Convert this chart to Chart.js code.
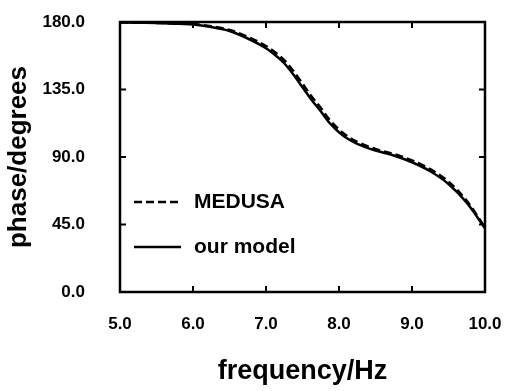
<!DOCTYPE html>
<html>
<head>
<meta charset="utf-8">
<script src="https://cdn.jsdelivr.net/npm/chart.js@4.4.1/dist/chart.umd.min.js"></script>
<style>
  html, body { margin: 0; padding: 0; background: #fff; }
</style>
</head>
<body>
<canvas id="phaseChart" width="505" height="391"></canvas>
<script>
// values
const freqHz = [5.0, 5.25, 5.5, 5.75, 6.0, 6.25, 6.5, 6.75, 7.0, 7.125, 7.25, 7.375, 7.5,
                7.625, 7.75, 7.875, 8.0, 8.125, 8.25, 8.5, 8.75, 9.0, 9.25, 9.5, 9.75, 10.0];
const medusaPhase = [179.8, 179.6, 179.4, 179.1, 178.6, 177.1, 174.7, 170.1, 164.0, 159.8, 154.6, 147.3, 138.9,
                     130.4, 122.8, 114.6, 108.3, 103.5, 100.1, 95.3, 92.0, 87.7, 81.9, 73.6, 60.8, 43.0];
const modelPhase = [179.7, 179.5, 179.3, 178.9, 178.3, 176.6, 174.0, 169.0, 162.5, 158.0, 152.5, 145.0, 136.5,
                    128.0, 120.5, 112.5, 106.5, 102.0, 98.8, 94.3, 91.0, 86.5, 80.5, 72.0, 59.5, 42.5];
const seriesNames = ['MEDUSA', 'our model'];
const xTickValues = [5, 6, 7, 8, 9, 10];
const yTickValues = [0, 45, 90, 135, 180];

const FONT = "'Liberation Sans', Arial, Helvetica, sans-serif";

function toPoints(xs, ys) {
    return xs.map((x, i) => ({x: x, y: ys[i]}));
}

// box round the plot with inward ticks on all four sides
const framePlugin = {
    id: 'frame',
    afterDatasetsDraw(chart) {
        const {ctx, chartArea: a, scales} = chart;
        const tickLen = 6;
        ctx.save();
        ctx.strokeStyle = '#000';
        ctx.lineWidth = 2;
        ctx.beginPath();
        xTickValues.slice(1, -1).forEach(v => {
            const px = scales.x.getPixelForValue(v);
            ctx.moveTo(px, a.bottom); ctx.lineTo(px, a.bottom - tickLen);
            ctx.moveTo(px, a.top); ctx.lineTo(px, a.top + tickLen);
        });
        yTickValues.slice(1, -1).forEach(v => {
            const py = scales.y.getPixelForValue(v);
            ctx.moveTo(a.left, py); ctx.lineTo(a.left + tickLen, py);
            ctx.moveTo(a.right, py); ctx.lineTo(a.right - tickLen, py);
        });
        ctx.stroke();
        ctx.lineWidth = 2.5;
        ctx.strokeRect(a.left, a.top, a.right - a.left, a.bottom - a.top);
        ctx.restore();
    }
};

// legend sits inside the plot, lower left
const insideLegend = {
    id: 'insideLegend',
    afterDraw(chart) {
        const {ctx, chartArea: a} = chart;
        const rows = [a.top + 180, a.top + 225];
        ctx.save();
        ctx.font = "bold 21px " + FONT;
        ctx.fillStyle = '#000';
        ctx.textBaseline = 'middle';
        chart.data.datasets.forEach((ds, i) => {
            const y = rows[i];
            ctx.strokeStyle = '#000';
            ctx.lineWidth = ds.borderWidth;
            ctx.setLineDash(ds.borderDash || []);
            ctx.beginPath();
            ctx.moveTo(a.left + 14, y);
            ctx.lineTo(a.left + 61, y);
            ctx.stroke();
            ctx.setLineDash([]);
            ctx.fillText(ds.label, a.left + 74, y);
        });
        ctx.restore();
    }
};

const ctx = document.getElementById('phaseChart').getContext('2d');
new Chart(ctx, {
    type: 'line',
    data: {
        datasets: [{
            label: seriesNames[0],
            data: toPoints(freqHz, medusaPhase),
            borderColor: '#000',
            borderWidth: 2.5,
            borderDash: [8, 4],
            pointRadius: 0,
            fill: false,
            cubicInterpolationMode: 'monotone'
        }, {
            label: seriesNames[1],
            data: toPoints(freqHz, modelPhase),
            borderColor: '#000',
            borderWidth: 2.5,
            pointRadius: 0,
            fill: false,
            cubicInterpolationMode: 'monotone'
        }]
    },
    options: {
        responsive: false,
        animation: false,
        devicePixelRatio: 1,
        layout: { padding: {top: 22, right: 20, left: 0, bottom: 0} },
        plugins: {
            legend: {display: false},
            title: {display: false},
            tooltip: {enabled: false}
        },
        scales: {
            x: {
                type: 'linear',
                min: 5, max: 10,
                // tick marks are hidden; tickLength only spaces the labels off the axis
                grid: {display: false, drawTicks: true, tickLength: 22},
                border: {display: false},
                afterBuildTicks: s => { s.ticks = xTickValues.map(v => ({value: v})); },
                afterFit: s => { s.height = 99; },
                ticks: {
                    color: '#000',
                    padding: 0,
                    maxRotation: 0,
                    callback: v => Number(v).toFixed(1),
                    font: {family: FONT, weight: 'bold', size: 17}
                },
                title: {
                    display: true,
                    text: 'frequency/Hz',
                    color: '#000',
                    padding: {top: 0, bottom: 3},
                    font: {family: FONT, weight: 'bold', size: 27}
                }
            },
            y: {
                min: 0, max: 180,
                grid: {display: false, drawTicks: true, tickLength: 35},
                border: {display: false},
                afterBuildTicks: s => { s.ticks = yTickValues.map(v => ({value: v})); },
                afterFit: s => { s.width = 120; },
                ticks: {
                    color: '#000',
                    padding: 0,
                    callback: v => Number(v).toFixed(1),
                    font: {family: FONT, weight: 'bold', size: 17}
                },
                title: {
                    display: true,
                    text: 'phase/degrees',
                    color: '#000',
                    padding: {top: 3, bottom: 0},
                    font: {family: FONT, weight: 'bold', size: 26}
                }
            }
        }
    },
    plugins: [framePlugin, insideLegend]
});
</script>
</body>
</html>
